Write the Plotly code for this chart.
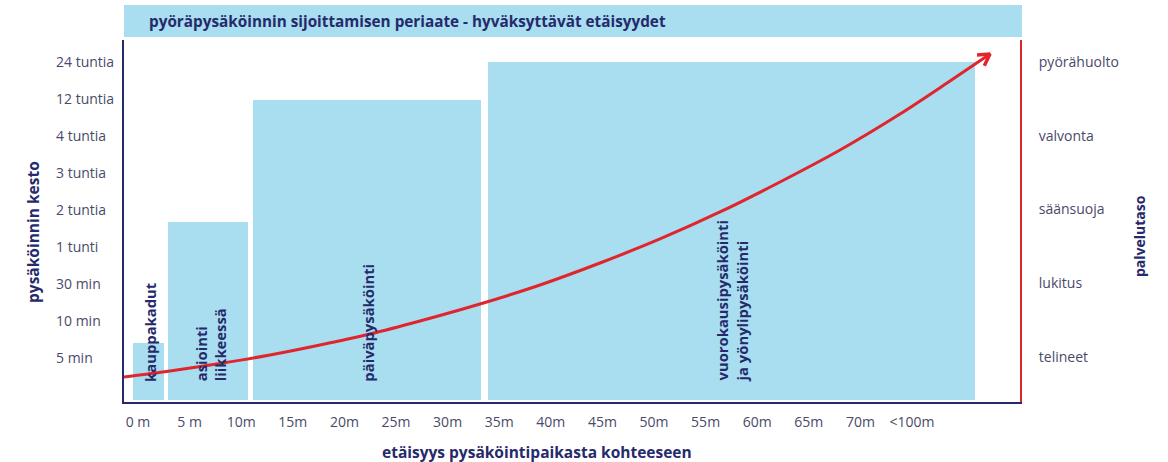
import math
import plotly.graph_objects as go

# ---- data -------------------------------------------------------------
distance_labels = ["0 m", "5 m", "10m", "15m", "20m", "25m", "30m", "35m",
                   "40m", "45m", "50m", "55m", "60m", "65m", "70m", "<100m"]
duration_labels = ["5 min", "10 min", "30 min", "1 tunti", "2 tuntia",
                   "3 tuntia", "4 tuntia", "12 tuntia", "24 tuntia"]
service_labels = ["telineet", "lukitus", "säänsuoja", "valvonta", "pyörähuolto"]
service_levels = [0, 2, 4, 6, 8]

# parking types: distance span (in distance-step units) and acceptable duration level
park_types = ["kauppakadut", "asiointi<br>liikkeessä", "päiväpysäköinti",
              "vuorokausipysäköinti<br>ja yönylipysäköinti"]
park_start = [-0.10, 0.58, 2.23, 6.78]
park_end = [0.50, 2.13, 6.65, 16.22]
park_duration = [0.38, 3.66, 6.96, 8.0]
label_pos = [0.23, 1.40, 4.44, 11.5]

# rising service level curve (distance step, level)
curve_x = [-0.271, 0.620, 1.589, 2.558, 3.527, 4.496, 5.465, 6.628, 7.791,
           8.953, 10.116, 11.279, 12.442, 13.605, 14.767, 15.736, 16.512]
curve_y = [-0.542, -0.379, -0.176, 0.054, 0.325, 0.623, 0.976, 1.436, 1.951,
           2.547, 3.198, 3.930, 4.743, 5.610, 6.585, 7.480, 8.211]

# ---- styling ----------------------------------------------------------
FONT = "Open Sans"
NAVY = "#262a6b"
TICK = "#4a4a68"
BLUE = "#a8def0"
RED = "#e0262c"

W, H = 1168, 462
M_L, M_R, M_T, M_B = 124, 148, 40, 60
X_RANGE = [-0.2713, 17.093]
Y_RANGE = [-1.2195, 8.5908]
BASE = -1.16

fig = go.Figure()

# parking-type bars
centers = [(s + e) / 2 for s, e in zip(park_start, park_end)]
widths = [e - s for s, e in zip(park_start, park_end)]
fig.add_trace(go.Bar(
    x=centers, y=[d - BASE for d in park_duration], base=BASE, width=widths,
    marker=dict(color=BLUE, line=dict(width=0)), hoverinfo="skip",
    showlegend=False,
))

# service level curve
fig.add_trace(go.Scatter(
    x=curve_x, y=curve_y, mode="lines",
    line=dict(color=RED, width=3, shape="spline", smoothing=0.8),
    hoverinfo="skip", showlegend=False, cliponaxis=False,
))

# open chevron arrowhead at the curve end, built in screen space
px_per_x = (W - M_L - M_R) / (X_RANGE[1] - X_RANGE[0])
px_per_y = (H - M_T - M_B) / (Y_RANGE[1] - Y_RANGE[0])
dx = (curve_x[-1] - curve_x[-2]) * px_per_x
dy = (curve_y[-1] - curve_y[-2]) * px_per_y
ang = math.atan2(dy, dx)
arm = 13
head_x, head_y = [], []
for a in (ang + math.radians(150), None, ang - math.radians(150)):
    if a is None:
        head_x.append(curve_x[-1])
        head_y.append(curve_y[-1])
        continue
    head_x.append(curve_x[-1] + arm * math.cos(a) / px_per_x)
    head_y.append(curve_y[-1] + arm * math.sin(a) / px_per_y)
fig.add_trace(go.Scatter(
    x=head_x, y=head_y, mode="lines",
    line=dict(color=RED, width=3.5), hoverinfo="skip", showlegend=False,
    cliponaxis=False,
))

# service-level axis on the right
fig.add_trace(go.Scatter(x=[None], y=[None], yaxis="y2", showlegend=False))

annotations = []
# bar labels, reading upwards
for name, xp in zip(park_types, label_pos):
    annotations.append(dict(
        x=xp, y=-0.72, xref="x", yref="y", text=name, textangle=-90,
        showarrow=False, xanchor="center", yanchor="bottom", align="left",
        font=dict(family=FONT, size=14.8, color=NAVY, weight="bold"),
    ))

# duration labels, left aligned
for i, lab in enumerate(duration_labels):
    annotations.append(dict(
        x=(54 - M_L) / (W - M_L - M_R), y=i, xref="paper", yref="y",
        text=lab, showarrow=False, xanchor="left", yanchor="middle",
        font=dict(family=FONT, size=14, color=TICK),
    ))

# heading
annotations.append(dict(
    x=(147 - M_L) / (W - M_L - M_R), y=(402 - 21) / 362, xref="paper", yref="paper",
    text="pyöräpysäköinnin sijoittamisen periaate - hyväksyttävät etäisyydet",
    showarrow=False, xanchor="left", yanchor="middle",
    font=dict(family=FONT, size=15.3, color=NAVY, weight="bold"),
))
# axis titles
annotations.append(dict(
    x=(33 - M_L) / (W - M_L - M_R), y=(402 - 232) / 362, xref="paper", yref="paper",
    text="pysäköinnin kesto", textangle=-90, showarrow=False,
    xanchor="center", yanchor="middle",
    font=dict(family=FONT, size=15.5, color=NAVY, weight="bold"),
))
annotations.append(dict(
    x=(1140 - M_L) / (W - M_L - M_R), y=(402 - 236) / 362, xref="paper", yref="paper",
    text="palvelutaso", textangle=-90, showarrow=False,
    xanchor="center", yanchor="middle",
    font=dict(family=FONT, size=14, color=NAVY, weight="bold"),
))
annotations.append(dict(
    x=(537 - M_L) / (W - M_L - M_R), y=(402 - 452) / 362, xref="paper", yref="paper",
    text="etäisyys pysäköintipaikasta kohteeseen", showarrow=False,
    xanchor="center", yanchor="middle",
    font=dict(family=FONT, size=15.5, color=NAVY, weight="bold"),
))

shapes = [
    # heading band
    dict(type="rect", xref="paper", yref="paper",
         x0=0, x1=(1022 - M_L) / (W - M_L - M_R),
         y0=(402 - 37) / 362, y1=(402 - 5) / 362,
         fillcolor=BLUE, line=dict(width=0), layer="below"),
]

fig.update_layout(
    width=W, height=H,
    margin=dict(l=M_L, r=M_R, t=M_T, b=M_B),
    paper_bgcolor="white", plot_bgcolor="white",
    bargap=0,
    xaxis=dict(
        range=X_RANGE, tickvals=list(range(len(distance_labels))),
        ticktext=distance_labels, showgrid=False, zeroline=False,
        showline=True, linecolor=NAVY, linewidth=2,
        ticks="", ticklabelstandoff=6,
        tickfont=dict(family=FONT, size=14, color=TICK), fixedrange=True,
    ),
    yaxis=dict(
        range=Y_RANGE, showticklabels=False, showgrid=False, zeroline=False,
        showline=True, linecolor=NAVY, linewidth=2, ticks="", fixedrange=True,
    ),
    yaxis2=dict(
        range=Y_RANGE, overlaying="y", side="right",
        tickvals=service_levels, ticktext=service_labels,
        showgrid=False, zeroline=False, showline=True, linecolor=RED,
        linewidth=2, ticks="", ticklabelstandoff=14,
        tickfont=dict(family=FONT, size=14, color=TICK), fixedrange=True,
    ),
    annotations=annotations,
    shapes=shapes,
)

fig.write_html("out.html")
